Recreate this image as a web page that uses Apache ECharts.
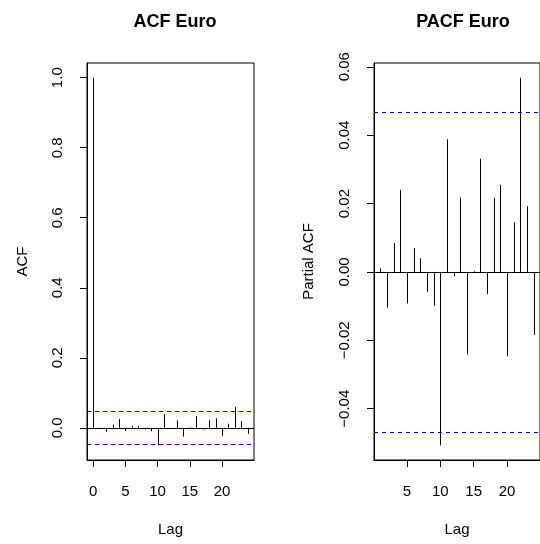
<!DOCTYPE html>
<html>
<head>
<meta charset="utf-8">
<script src="https://cdn.jsdelivr.net/npm/echarts@6/dist/echarts.min.js"></script>
<style>
html,body{margin:0;padding:0;background:#fff;}
#chart{width:540px;height:544px;}
</style>
</head>
<body>
<div id="chart"></div>
<script>
// ---- data ----
var acfLags = [0,1,2,3,4,5,6,7,8,9,10,11,12,13,14,15,16,17,18,19,20,21,22,23,24];
var acfValues = [1.0,0.001,-0.011,0.009,0.025,-0.009,0.006,0.005,-0.005,-0.010,-0.050,0.039,-0.002,0.021,-0.025,0.002,0.033,-0.006,0.022,0.027,-0.023,0.012,0.059,0.019,-0.017];
var pacfLags = [1,2,3,4,5,6,7,8,9,10,11,12,13,14,15,16,17,18,19,20,21,22,23,24];
var pacfValues = [0.0010,-0.0104,0.0084,0.0240,-0.0092,0.0070,0.0040,-0.0058,-0.0099,-0.0507,0.0388,-0.0012,0.0217,-0.0241,0.0002,0.0331,-0.0065,0.0216,0.0255,-0.0247,0.0145,0.0568,0.0192,-0.0184];
var confLimit = 0.0469;
var acfXTicks = [0,5,10,15,20];
var pacfXTicks = [5,10,15,20];
var acfYTicks = [0,0.2,0.4,0.6,0.8,1.0];
var pacfYTicks = [-0.04,-0.02,0,0.02,0.04,0.06];
var titles = ['ACF Euro','PACF Euro'];
var yNames = ['ACF','Partial ACF'];
var xName = 'Lag';

// ---- ranges (R style 4% extension) ----
function ext(lo, hi){ var d=(hi-lo)*0.04; return [lo-d, hi+d]; }
var acfXR = ext(Math.min.apply(null,acfLags), Math.max.apply(null,acfLags));
var pacfXR = ext(Math.min.apply(null,pacfLags), Math.max.apply(null,pacfLags));
var acfYR = ext(Math.min(Math.min.apply(null,acfValues), -confLimit), Math.max(Math.max.apply(null,acfValues), confLimit));
var pacfYR = ext(Math.min(Math.min.apply(null,pacfValues), -confLimit), Math.max(Math.max.apply(null,pacfValues), confLimit));

var FONT = '"Liberation Sans", Arial, Helvetica, sans-serif';
function minus(s){ return s.replace('-', '\u2212'); }

function xAxisCfg(idx, range, ticks){
  return {
    type:'value', gridIndex: idx, min: range[0], max: range[1], position:'bottom',
    name: xName, nameLocation:'middle', nameGap: 62,
    nameTextStyle:{color:'#000', fontSize:15, fontFamily:FONT},
    axisLine:{show:true, onZero:false, lineStyle:{color:'#000', width:1}},
    splitLine:{show:false},
    axisTick:{show:true, inside:false, length:7, lineStyle:{color:'#000', width:1}, customValues: ticks},
    axisLabel:{show:true, inside:false, color:'#000', fontSize:15, fontFamily:FONT, margin:24, customValues: ticks,
      formatter:function(v){ return String(Math.round(v)); }}
  };
}
function yAxisCfg(idx, range, ticks, dec, name, gap){
  return {
    type:'value', gridIndex: idx, min: range[0], max: range[1], position:'left',
    name: name, nameLocation:'middle', nameGap: gap, nameRotate: 90,
    nameTextStyle:{color:'#000', fontSize:15, fontFamily:FONT},
    axisLine:{show:true, onZero:false, lineStyle:{color:'#000', width:1}},
    splitLine:{show:false},
    axisTick:{show:true, inside:false, length:7, lineStyle:{color:'#000', width:1}, customValues: ticks},
    axisLabel:{show:true, inside:false, color:'#000', fontSize:15, fontFamily:FONT, rotate:90, margin:22, customValues: ticks,
      formatter:function(v){ return minus(v.toFixed(dec)); }}
  };
}

function spikeSeries(idx, lags, vals){
  var data = lags.map(function(l,i){ return [l, vals[i]]; });
  return {
    type:'custom', xAxisIndex: idx, yAxisIndex: idx, data: data, silent:true, z: 3,
    renderItem:function(params, api){
      var x = api.value(0), y = api.value(1);
      var p0 = api.coord([x, 0]), p1 = api.coord([x, y]);
      var xx = Math.round(p0[0]) + 0.5;
      return {type:'line', shape:{x1:xx, y1:p0[1], x2:xx, y2:p1[1]},
        style:{stroke:'#000', lineWidth:1}};
    }
  };
}
// horizontal reference lines: value, colour, dashed flag
function hLines(idx, range){
  var levels = [0, confLimit, -confLimit];
  return {
    type:'custom', xAxisIndex: idx, yAxisIndex: idx, silent:true, z: 2,
    data: levels.map(function(v, i){ return [v, i]; }),
    renderItem:function(params, api){
      var v = api.value(0), k = api.value(1);
      var a = api.coord([range[0], v]), b = api.coord([range[1], v]);
      var yy = Math.round(a[1]) + 0.5;
      return {type:'line', shape:{x1:a[0], y1:yy, x2:b[0], y2:yy},
        style: k === 0 ? {stroke:'#000', lineWidth:1}
                       : {stroke:'#0000ff', lineWidth:1, lineDash:[4,4]}};
    }
  };
}

var chart = echarts.init(document.getElementById('chart'), null, {renderer:'canvas'});
chart.setOption({
  animation:false,
  backgroundColor:'#fff',
  title:[
    {text: titles[0], left: 170, top: 8, textAlign:'center',
     textStyle:{fontSize:18, fontWeight:'bold', color:'#000', fontFamily:FONT}},
    {text: titles[1], left: 458, top: 8, textAlign:'center',
     textStyle:{fontSize:18, fontWeight:'bold', color:'#000', fontFamily:FONT}}
  ],
  grid:[
    {left:87, top:63, width:167, height:397, show:true, borderColor:'#000', borderWidth:1, backgroundColor:'transparent'},
    {left:374, top:63, width:168, height:397, show:true, borderColor:'#000', borderWidth:1, backgroundColor:'transparent'}
  ],
  xAxis:[ xAxisCfg(0, acfXR, acfXTicks), xAxisCfg(1, pacfXR, pacfXTicks) ],
  yAxis:[ yAxisCfg(0, acfYR, acfYTicks, 1, yNames[0], 57), yAxisCfg(1, pacfYR, pacfYTicks, 2, yNames[1], 58) ],
  series:[
    hLines(0, acfXR),
    spikeSeries(0, acfLags, acfValues),
    hLines(1, pacfXR),
    spikeSeries(1, pacfLags, pacfValues)
  ]
});
</script>
</body>
</html>
